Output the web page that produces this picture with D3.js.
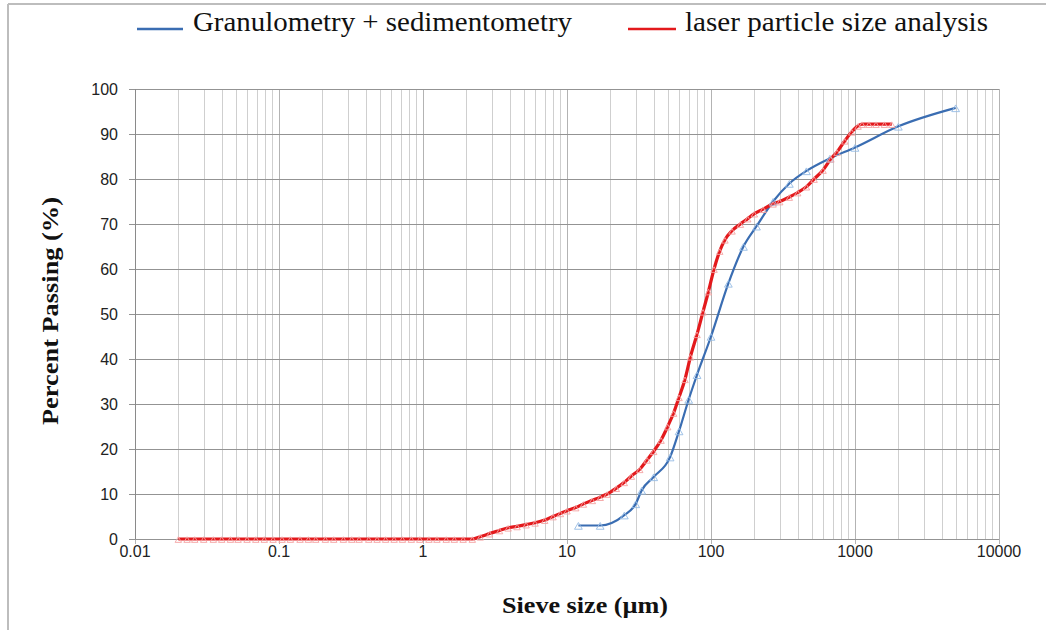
<!DOCTYPE html>
<html>
<head>
<meta charset="utf-8">
<script src="https://cdn.jsdelivr.net/npm/d3@7"></script>
<style>
  html, body { margin: 0; padding: 0; background: #fff; }
  svg { display: block; }
</style>
</head>
<body>
<svg id="chart" width="1046" height="630"></svg>
<script>
// ---- data ----
const xTickValues = [0.01, 0.1, 1, 10, 100, 1000, 10000];
const xTickLabels = ["0.01", "0.1", "1", "10", "100", "1000", "10000"];
const yTickValues = [0, 10, 20, 30, 40, 50, 60, 70, 80, 90, 100];

const seriesNames = ["Granulometry + sedimentometry", "laser particle size analysis"];

// Granulometry + sedimentometry (blue)
const granuSize = [12, 17, 25, 30, 33, 40, 52, 60, 70, 80, 100, 132, 168, 207, 270, 350, 460, 670, 1000, 2000, 5000];
const granuPass = [3, 3, 5.3, 7.8, 10.8, 13.8, 18.2, 24, 31, 36.5, 45, 56.8, 65, 69.5, 75, 79, 81.8, 84.6, 87, 91.7, 95.8];

// laser particle size analysis (red)
const laserSize = [0.020, 0.023, 0.026, 0.030, 0.035, 0.040, 0.046, 0.052, 0.060, 0.069, 0.079, 0.091,
  0.105, 0.12, 0.14, 0.16, 0.18, 0.21, 0.24, 0.28, 0.32, 0.36, 0.42, 0.48, 0.55, 0.63, 0.72, 0.83, 0.95,
  1.1, 1.25, 1.45, 1.65, 1.9, 2.2, 2.5, 2.9, 3.4, 3.9, 4.5, 5.2, 6.0, 7.0, 8.0, 9.0, 10, 11.5, 13, 15, 17,
  19, 22, 25, 28, 32, 36, 40, 45, 50, 55, 60, 66, 72, 80, 88, 96, 105, 115, 125, 140, 160, 180, 200, 230,
  270, 300, 350, 400, 460, 520, 600, 680, 750, 850, 950, 1050, 1120, 1250, 1400, 1600, 1800];
const laserPass = [0, 0, 0, 0, 0, 0, 0, 0, 0, 0, 0, 0,
  0, 0, 0, 0, 0, 0, 0, 0, 0, 0, 0, 0, 0, 0, 0, 0, 0,
  0, 0, 0, 0, 0, 0, 0.5, 1.2, 1.9, 2.5, 2.8, 3.2, 3.6, 4.2, 5.0, 5.7, 6.3, 7.0, 7.8, 8.6, 9.3,
  10, 11.3, 12.6, 14, 15.5, 17.6, 19.5, 22, 25, 28, 31.5, 35.5, 40.5, 45.5, 50.5, 55, 60, 64, 66.5, 68.5, 70, 71.2, 72.3, 73.3,
  74.5, 75, 76, 77, 78.3, 80, 82, 84.5, 86, 88.5, 90.5, 91.8, 92.2, 92.2, 92.2, 92.2, 92.2];

const seriesColors = ["#3a6db2", "#e3191c"];
const markerColors = ["#95bbe4", "#f4a3a3"];

// ---- drawing ----
const svg = d3.select("#chart");

// outer frame (top and left edges visible)
svg.append("line").attr("x1", 8).attr("x2", 1046).attr("y1", 4).attr("y2", 4)
  .attr("stroke", "#bdbdbd").attr("stroke-width", 2);
svg.append("line").attr("x1", 8).attr("x2", 8).attr("y1", 4).attr("y2", 630)
  .attr("stroke", "#bdbdbd").attr("stroke-width", 2);

const x = d3.scaleLog().domain([0.01, 10000]).range([135, 999]);
const y = d3.scaleLinear().domain([0, 100]).range([539, 89]);

const grid = svg.append("g");
// minor vertical grid
const minorX = [];
for (let e = -2; e < 4; e++) for (let m = 2; m <= 9; m++) minorX.push(m * Math.pow(10, e));
grid.selectAll(".vminor").data(minorX).join("line")
  .attr("x1", d => Math.round(x(d)) + 0.5).attr("x2", d => Math.round(x(d)) + 0.5)
  .attr("y1", y(100)).attr("y2", y(0))
  .attr("stroke", "#cfcfcf").attr("stroke-width", 1);
// major vertical grid
grid.selectAll(".vmajor").data(xTickValues).join("line")
  .attr("x1", d => Math.round(x(d)) + 0.5).attr("x2", d => Math.round(x(d)) + 0.5)
  .attr("y1", y(100)).attr("y2", y(0) + 5)
  .attr("stroke", "#b3b3b3").attr("stroke-width", 1);
// horizontal grid
grid.selectAll(".h").data(yTickValues).join("line")
  .attr("x1", x(0.01) - 6).attr("x2", x(10000))
  .attr("y1", d => Math.round(y(d)) + 0.5).attr("y2", d => Math.round(y(d)) + 0.5)
  .attr("stroke", "#939393").attr("stroke-width", 1);
// y axis line
grid.append("line").attr("x1", Math.round(x(0.01)) + 0.5).attr("x2", Math.round(x(0.01)) + 0.5)
  .attr("y1", y(100)).attr("y2", y(0))
  .attr("stroke", "#8a8a8a").attr("stroke-width", 1);

// tick labels
svg.append("g").selectAll("text").data(yTickValues).join("text")
  .attr("x", 118).attr("y", d => y(d)).attr("dy", "0.35em")
  .attr("text-anchor", "end")
  .attr("font-family", "'Liberation Sans', Arial, sans-serif").attr("font-size", 16)
  .attr("fill", "#222").text(d => d);
svg.append("g").selectAll("text").data(xTickValues).join("text")
  .attr("x", d => x(d)).attr("y", 551).attr("dy", "0.35em")
  .attr("text-anchor", "middle")
  .attr("font-family", "'Liberation Sans', Arial, sans-serif").attr("font-size", 16)
  .attr("fill", "#222").text((d, i) => xTickLabels[i]);

// axis titles
svg.append("text").attr("x", 585).attr("y", 605).attr("dy", "0.35em")
  .attr("text-anchor", "middle")
  .attr("font-family", "'Liberation Serif', 'Times New Roman', serif").attr("font-weight", "bold")
  .attr("font-size", 23).attr("fill", "#111")
  .attr("textLength", 166).attr("lengthAdjust", "spacingAndGlyphs")
  .text("Sieve size (µm)");
svg.append("text").attr("transform", "translate(50,311) rotate(-90)").attr("dy", "0.35em")
  .attr("text-anchor", "middle")
  .attr("font-family", "'Liberation Serif', 'Times New Roman', serif").attr("font-weight", "bold")
  .attr("font-size", 23).attr("fill", "#111")
  .attr("textLength", 228).attr("lengthAdjust", "spacingAndGlyphs")
  .text("Percent Passing (%)");

// series
const series = [
  granuSize.map((s, i) => ({ s, p: granuPass[i] })),
  laserSize.map((s, i) => ({ s, p: laserPass[i] }))
];
const line = d3.line().x(d => x(d.s)).y(d => y(d.p)).curve(d3.curveMonotoneX);
const triSizes = [26, 18];
const widths = [2.2, 3.2];

series.forEach((data, k) => {
  svg.append("path").datum(data).attr("d", line)
    .attr("fill", "none").attr("stroke", seriesColors[k]).attr("stroke-width", widths[k])
    .attr("stroke-linejoin", "round");
});
series.forEach((data, k) => {
  const tri = d3.symbol().type(d3.symbolTriangle).size(triSizes[k]);
  svg.append("g").selectAll("path").data(data).join("path")
    .attr("transform", d => `translate(${x(d.s)},${y(d.p) + 1.5})`)
    .attr("d", tri).attr("fill", "none")
    .attr("stroke", markerColors[k]).attr("stroke-width", 0.9);
});

// legend
const legend = [
  { lx1: 137, lx2: 183, tx: 193, tw: 379 },
  { lx1: 628, lx2: 676, tx: 685, tw: 303 }
];
legend.forEach((l, k) => {
  svg.append("line").attr("x1", l.lx1).attr("x2", l.lx2).attr("y1", 29).attr("y2", 29)
    .attr("stroke", seriesColors[k]).attr("stroke-width", 2.5);
  svg.append("text").attr("x", l.tx).attr("y", 31)
    .attr("font-family", "'Liberation Serif', 'Times New Roman', serif")
    .attr("font-size", 27).attr("fill", "#111")
    .attr("textLength", l.tw).attr("lengthAdjust", "spacingAndGlyphs")
    .text(seriesNames[k]);
});
</script>
</body>
</html>
